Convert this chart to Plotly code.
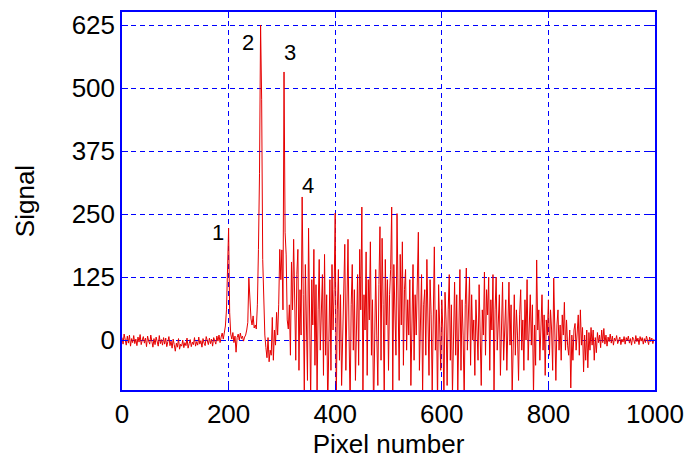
import plotly.graph_objects as go

# Detector read-out: one sample every second pixel
pixel_step = 2
signal = [
    5, -8, 12, -3, -10, 8, -6, 10, -12, 3,
    -5, 9, -7, 2, -11, 6, -4, 11, -9, 0,
    7, -6, 4, -13, 8, -2, -8, 10, -5, -14,
    3, -9, 6, -4, -12, 9, -7, 1, -10, 5,
    -8, 4, -13, -3, 7, -11, -2, -16, 2, -9,
    -22, -6, -14, 3, -18, -8, -12, 0, -15, -5,
    -11, 4, -16, -7, 1, -13, -4, -9, 5, -12,
    -3, -10, 6, -8, -1, -14, 3, -6, -11, 7,
    -4, -9, 4, -7, 2, -12, 5, -3, -8, 8,
    -2, 10, -5, 6, 14, 2, 18, 28, 60, 130,
    222, 55, 12, 2, 15, -5, 8, -24, 5, 12,
    0, 14, 3, 8, -2, 6, 10, 20, 35, 123,
    70, 42, 30, 48, 24, 30, 22, 70, 180, 330,
    625, 478, 160, 55, 10, -15, -35, 5, -43, -20,
    -30, 45, -40, 20, -10, 55, 10, 70, 180, 120,
    179, 60, 532, 214, 169, 40, 22, 70, -30, 155,
    60, 200, 90, -40, 130, 180, -60, 100, 10, 284,
    90, -100, 150, 40, -80, 222, 60, -120, 120, 30,
    180, -50, 110, -110, 60, 160, -20, 80, 130, -70,
    170, -30, 90, -140, 40, 120, -60, 150, 20, 100,
    252, -120, 60, 140, -40, 90, -90, 30, 110, 190,
    -60, 80, 200, 10, -130, 70, 150, -20, 100, -80,
    40, 130, -50, 180, 60, 264, -110, 90, 20, 175,
    -70, 120, 40, 195, -30, 80, -150, 60, 140, 10,
    -90, 110, 225, -40, 202, 70, -120, 160, 30, 120,
    -60, 90, 140, 264, -100, 150, 40, -30, 251, 60,
    -80, 170, 30, 195, -50, 100, 140, -20, 80, 10,
    120, -90, 60, 150, -40, 90, 10, 110, 214, -60,
    40, 130, -110, 70, 100, -30, 160, 20, -70, 120,
    50, -100, 90, 185, -20, 60, -130, 110, 30, -60,
    80, 20, -120, 95, 40, -90, 60, 130, -40, 70,
    -110, 50, 115, -30, 90, -100, 30, 140, -60, 80,
    10, -120, 70, 143, -20, 60, 125, -50, 90, 0,
    40, -70, 80, 20, -40, 110, 30, -90, 60, 10,
    135, -30, 100, 50, 125, -60, 80, 20, 130, -100,
    60, 125, -20, 40, 90, -70, 50, 115, -40, 20,
    80, -60, 40, 115, -10, 70, -110, 30, 90, -30,
    60, 10, -80, 50, 100, -20, 40, -60, 80, 0,
    120, -40, 50, 90, -10, 70, -110, 30, -50, 159,
    20, 60, -40, 30, 90, -20, 50, -70, 40, 10,
    80, -30, 60, 20, -60, 123, 40, -80, 30, 60,
    -20, 30, -40, 50, 10, 75, -20, 40, -10, -30,
    20, -95, 10, -40, 20, 33, -20, 10, 50, -30,
    60, -10, 25, -63, 10, -40, 20, -55, 15, -20,
    25, -10, 20, -40, 5, -25, 15, -5, 10, -15,
    20, -5, 23, -8, 10, -12, 6, -3, 12, -6,
    8, -10, 4, -2, 9, -7, 3, 6, -9, 2,
    -4, 7, -8, 5, -1, 8, -6, 3, -10, 6,
    1, -7, 9, -3, 4, -9, 7, -2, 5, -8,
    3, -5, 8, -1, -9, 6, -3, 4, -7, 2,
]
pixels = [i * pixel_step for i in range(len(signal))]

# Peak labels: text, pixel, signal
peak_labels = ["1", "2", "3", "4"]
peak_label_x = [180, 236, 315, 349]
peak_label_y = [214, 591, 571, 307]

x_ticks = [0, 200, 400, 600, 800, 1000]
y_ticks = [0, 125, 250, 375, 500, 625]

BLUE = "#0000ff"
RED = "#e60000"
FONT = "Liberation Sans, Arial, sans-serif"

fig = go.Figure()
fig.add_trace(go.Scatter(
    x=pixels, y=signal, mode="lines",
    line=dict(color=RED, width=1),
    showlegend=False, hoverinfo="skip",
))

for t, xv, yv in zip(peak_labels, peak_label_x, peak_label_y):
    fig.add_annotation(x=xv, y=yv, text=t, showarrow=False,
                       font=dict(family=FONT, size=22, color="black"))

axis_common = dict(
    showline=True, linecolor=BLUE, linewidth=1.5, mirror="ticks",
    ticks="inside", ticklen=6, tickcolor=BLUE, tickwidth=1,
    showgrid=True, gridcolor=BLUE, gridwidth=1, griddash="5px,4px",
    zeroline=False, automargin=False,
    tickfont=dict(family=FONT, size=26, color="black"),
)

fig.update_xaxes(
    range=[0, 1000], tickvals=x_ticks,
    title=dict(text="Pixel number", font=dict(family=FONT, size=26, color="black"), standoff=2),
    **axis_common,
)
fig.update_yaxes(
    range=[-99, 651], tickvals=y_ticks,
    title=dict(text="Signal", font=dict(family=FONT, size=26, color="black"), standoff=30),
    **axis_common,
)

fig.update_layout(
    width=691, height=461,
    margin=dict(l=122, r=36, t=12, b=71),
    paper_bgcolor="white", plot_bgcolor="white",
)

fig.write_html("out.html")
